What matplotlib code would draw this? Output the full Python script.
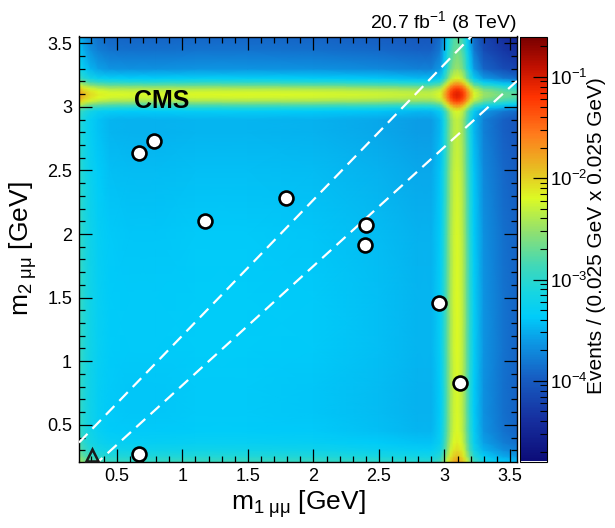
import numpy as np
import matplotlib
matplotlib.use("Agg")
import matplotlib.pyplot as plt
from matplotlib.colors import LinearSegmentedColormap, LogNorm
from matplotlib.ticker import MultipleLocator, LogLocator, NullFormatter

plt.rcParams['font.family'] = ['Liberation Sans', 'DejaVu Sans']
plt.rcParams['mathtext.fontset'] = 'custom'
plt.rcParams['mathtext.rm'] = 'Liberation Sans'
plt.rcParams['mathtext.it'] = 'Liberation Sans:italic'
plt.rcParams['mathtext.bf'] = 'Liberation Sans:bold'

# ---------------- data ----------------
m_lo, m_hi = 0.2113, 3.5536

# 1D background template profile (events per bin factor), same for both masses
prof_m = [0.2113, 0.25, 0.30, 0.36, 0.45, 0.60, 0.80, 1.10, 1.50, 2.00, 2.50,
          2.80, 2.90, 2.967, 2.997, 3.022, 3.047, 3.072, 3.097, 3.122, 3.147,
          3.172, 3.197, 3.227, 3.30, 3.45, 3.5536]
prof_v = [0.060, 0.042, 0.030, 0.024, 0.021, 0.020, 0.020, 0.021, 0.021, 0.020, 0.018,
          0.016, 0.016, 0.022, 0.045, 0.090, 0.180, 0.260, 0.300, 0.260, 0.180,
          0.090, 0.045, 0.022, 0.011, 0.007, 0.0058]

# observed events (open circles)
ev_m1 = [0.67, 0.78, 1.17, 1.79, 2.405, 2.39, 2.96, 3.12, 0.67]
ev_m2 = [2.64, 2.73, 2.10, 2.28, 2.075, 1.91, 1.456, 0.83, 0.27]
# event outside the signal region (triangle)
tri_m1 = [0.313]
tri_m2 = [0.26]

# signal corridor |m1 - m2| < a + b*(m1+m2)/2
corr_a, corr_b = 0.13, 0.065

x_ticks = [0.5, 1, 1.5, 2, 2.5, 3, 3.5]
tick_labels = ['0.5', '1', '1.5', '2', '2.5', '3', '3.5']
cb_min, cb_max = 1.6e-5, 0.25

# ---------------- colormap ----------------
cmap = LinearSegmentedColormap.from_list("rootrainbow", [
    (0.00, "#0c0c78"),
    (0.10, "#1630a0"),
    (0.20, "#1660c4"),
    (0.28, "#0c98e4"),
    (0.34, "#00ccfa"),
    (0.40, "#18d6e0"),
    (0.46, "#40d8b8"),
    (0.54, "#90e070"),
    (0.62, "#dcfa24"),
    (0.69, "#e8bc22"),
    (0.77, "#ff7c1c"),
    (0.86, "#ff3200"),
    (0.93, "#c01000"),
    (1.00, "#780000"),
])

fig = plt.figure(figsize=(6.15, 5.28), dpi=100)
ax = fig.add_axes([79/615, 1-461.5/528, 438/615, 425/528])
cax = fig.add_axes([520/615, 1-461.5/528, 27/615, 425/528])

X, Y = np.meshgrid(prof_m, prof_m)
Z = np.outer(prof_v, prof_v)
mesh = ax.pcolormesh(X, Y, Z, shading='gouraud', cmap=cmap,
                     norm=LogNorm(vmin=cb_min, vmax=cb_max), rasterized=True)

# corridor lines
xl = np.array([m_lo, m_hi])
h = corr_b / 2
up = (corr_a + (1 + h) * xl) / (1 - h)
lo = ((1 - h) * xl - corr_a) / (1 + h)
for yy in (up, lo):
    ax.plot(xl, yy, color='white', lw=1.6, dashes=(5.5, 3.2), zorder=3)

ax.plot(ev_m1, ev_m2, 'o', ms=10, mfc='white', mec='black', mew=1.9, zorder=5,
        clip_on=False)
ax.plot(tri_m1, tri_m2, '^', ms=8, mfc='none', mec='#1a1a1a', mew=1.8, zorder=5)

ax.set_xlim(m_lo, m_hi)
ax.set_ylim(m_lo, m_hi)
ax.set_xticks(x_ticks)
ax.set_yticks(x_ticks)
ax.set_xticklabels(tick_labels)
ax.set_yticklabels(tick_labels)
ax.xaxis.set_minor_locator(MultipleLocator(0.1))
ax.yaxis.set_minor_locator(MultipleLocator(0.1))
ax.tick_params(which='both', direction='in', top=True, right=True, labelsize=13,
               width=0.9, color='black')
ax.tick_params(which='major', length=9.5, pad=5)
ax.tick_params(which='minor', length=4.5)
for sp in ax.spines.values():
    sp.set_linewidth(1.0)

ax.set_xlabel(r'm$_{\mathregular{1\ μμ}}$ [GeV]', fontsize=19, labelpad=2)
ax.set_ylabel(r'm$_{\mathregular{2\ μμ}}$ [GeV]', fontsize=19, labelpad=6)

ax.text(0.632, 2.99, 'CMS', fontsize=18, fontweight='bold', ha='left', va='baseline',
        zorder=6)
fig.text(517/615, 1-28/528, r'20.7 fb$^{\mathregular{-1}}$ (8 TeV)', fontsize=14,
         ha='right', va='baseline')

cb = fig.colorbar(mesh, cax=cax)
cb.outline.set_linewidth(0.8)
cax.yaxis.set_major_locator(LogLocator(base=10, numticks=10))
cax.yaxis.set_minor_locator(LogLocator(base=10, subs=np.arange(2, 10), numticks=10))
cax.yaxis.set_minor_formatter(NullFormatter())
cax.tick_params(which='both', direction='in', right=True, left=False, labelsize=13.5,
                pad=2)
cax.tick_params(which='major', length=10, width=0.9)
cax.tick_params(which='minor', length=5, width=0.8)
fig.text(597/615, 1-236/528, 'Events / (0.025 GeV x 0.025 GeV)', fontsize=15,
         rotation=90, ha='center', va='center')

fig.savefig('out.png', dpi=100)
